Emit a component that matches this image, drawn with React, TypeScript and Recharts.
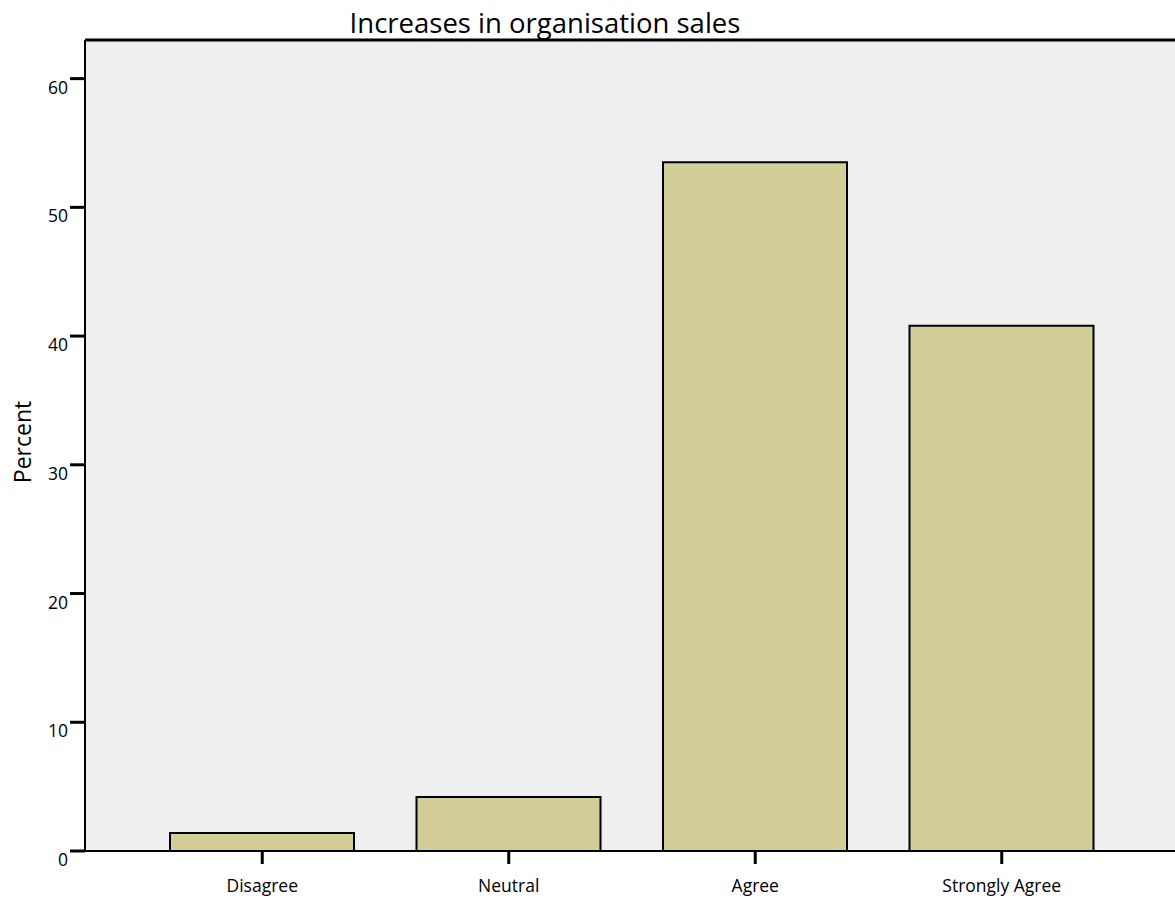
import { BarChart, Bar, XAxis, YAxis, CartesianGrid, ReferenceLine } from 'recharts';

const categories = ['Disagree', 'Neutral', 'Agree', 'Strongly Agree'];
const percents = [1.4, 4.2, 53.5, 40.8];
const yTicks = [0, 10, 20, 30, 40, 50, 60];
const yMax = 63;

const chartData = categories.map((name, i) => ({ name, value: percents[i] }));

const FONT = '"Open Sans", "Noto Sans", sans-serif';

const YTick = ({ x, y, payload }: any) => (
  <text x={x} y={y + 15} textAnchor="end" fontSize={17.5} fontFamily={FONT} fill="#000">
    {payload.value}
  </text>
);

const XTick = ({ x, y, payload }: any) => (
  <text x={x} y={y + 26} textAnchor="middle" fontSize={17.5} fontFamily={FONT} fill="#000">
    {payload.value}
  </text>
);

const App = () => {
  return (
    <div style={{ position: 'absolute', left: 0, top: 0, width: 1175, height: 901, overflow: 'hidden', background: '#fff' }}>
      <BarChart
        width={1179}
        height={901}
        data={chartData}
        margin={{ top: 40, right: 0, bottom: 0, left: 0 }}
      >
        <CartesianGrid fill="#efefef" horizontal={false} vertical={false} />
        <XAxis
          dataKey="name"
          height={50}
          padding={{ left: 54, right: 54 }}
          axisLine={{ stroke: '#000', strokeWidth: 2 }}
          tickLine={{ stroke: '#000', strokeWidth: 3 }}
          tickSize={13}
          tick={<XTick />}
          interval={0}
        />
        <YAxis
          width={85}
          domain={[0, yMax]}
          ticks={yTicks}
          allowDataOverflow
          axisLine={{ stroke: '#000', strokeWidth: 2 }}
          tickLine={{ stroke: '#000', strokeWidth: 3 }}
          tickSize={15}
          tickMargin={2}
          tick={<YTick />}
        />
        <ReferenceLine y={yMax} stroke="#000" strokeWidth={3} ifOverflow="extendDomain" />
        <Bar
          dataKey="value"
          fill="#d3ce98"
          stroke="#000"
          strokeWidth={2}
          barSize={184}
          isAnimationActive={false}
        />
      </BarChart>
      <svg width={1175} height={901} style={{ position: 'absolute', left: 0, top: 0, pointerEvents: 'none' }}>
        <text x={545} y={33} textAnchor="middle" fontSize={27.5} fontFamily={FONT} fill="#000">
          Increases in organisation sales
        </text>
        <text
          x={31}
          y={442}
          textAnchor="middle"
          fontSize={23}
          fontFamily={FONT}
          fill="#000"
          transform="rotate(-90 31 442)"
        >
          Percent
        </text>
      </svg>
    </div>
  );
};

export default App;
